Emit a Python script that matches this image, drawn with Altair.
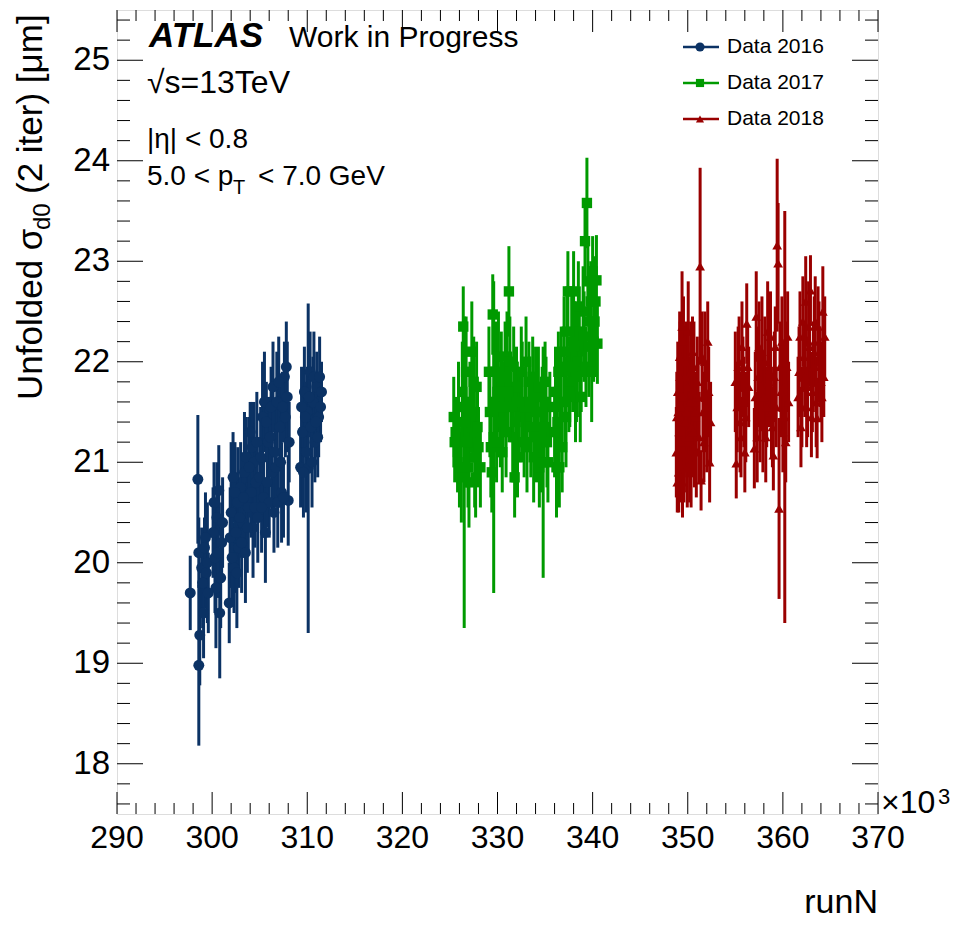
import altair as alt
import pandas as pd

# ---------------- data (run numbers in units of 10^3) ----------------
run_2016 = [297.7, 298.5, 298.6, 298.7, 298.6, 298.9, 299.0, 299.1, 299.2, 299.4, 299.5,
            300.1, 300.3, 300.4, 300.5, 300.7, 300.8, 301.0, 301.8, 301.9, 302.0, 302.2,
            302.3, 302.5, 302.7, 302.8, 303.0, 303.2, 303.4, 303.5, 303.6, 303.8, 304.0,
            304.1, 304.3, 304.4, 304.6, 305.0, 305.3, 305.4, 305.5, 305.6, 305.9, 306.0,
            306.2, 306.3, 306.6, 306.8, 306.9, 307.1, 307.3, 307.6, 307.7, 307.9, 308.0,
            308.1, 309.3, 309.5, 309.7, 309.9, 310.0, 310.1, 310.3, 310.4, 310.6, 310.8,
            311.0, 311.2, 311.4, 311.5,
            302.1, 302.4, 302.6, 302.9, 303.1, 303.3, 303.7, 303.9, 304.2, 304.5,
            304.7, 304.8, 305.1, 305.2, 305.7, 305.8, 306.1, 306.4, 306.5, 306.7,
            307.0, 307.2, 307.4, 307.5, 307.8, 309.4, 309.6, 309.8, 310.2, 310.5,
            310.7, 310.9, 311.1, 311.3, 299.3, 299.6, 300.2, 300.6, 300.9, 301.1]
val_2016 = [19.70, 20.83, 20.10, 19.28, 18.98, 19.95, 19.80, 19.50, 20.15, 19.90, 20.00,
            20.30, 20.05, 19.75, 20.45, 20.72, 19.50, 20.20, 19.60, 20.25, 20.50, 20.85,
            19.95, 20.30, 20.60, 20.15, 20.75, 20.40, 20.90, 20.10, 21.05, 20.55, 21.30,
            20.70, 20.35, 21.00, 20.80, 20.85, 21.45, 20.65, 21.60, 20.30, 21.20, 20.60,
            21.55, 20.90, 21.10, 21.60, 20.60, 21.35, 20.70, 21.85, 21.45, 21.65, 20.62,
            21.20, 20.95, 21.30, 21.70, 21.10, 21.50, 20.94, 21.90, 21.35, 21.60, 21.20,
            21.75, 21.45, 21.55, 21.70,
            20.05, 20.70, 19.90, 20.45, 20.20, 20.65, 20.35, 20.95, 21.15, 20.55,
            21.20, 20.45, 21.05, 20.55, 21.40, 20.80, 21.25, 21.75, 20.50, 20.95,
            21.80, 21.00, 21.55, 20.65, 21.95, 21.55, 20.90, 21.45, 21.65, 21.00,
            21.85, 21.40, 21.25, 21.85, 20.25, 19.70, 20.60, 20.10, 19.85, 20.40]
err_2016 = [0.37, 0.64, 0.35, 0.50, 0.80, 0.40, 0.45, 0.45, 0.30, 0.35, 0.60,
            0.45, 0.55, 0.60, 0.55, 0.45, 0.65, 0.40, 0.40, 0.50, 0.70, 0.45,
            0.45, 0.60, 0.55, 0.40, 0.45, 0.35, 0.60, 0.50, 0.40, 0.45, 0.30,
            0.45, 0.50, 0.60, 0.35, 0.40, 0.55, 0.40, 0.50, 0.50, 0.45, 0.35,
            0.40, 0.40, 0.45, 0.50, 0.45, 0.40, 0.50, 0.35, 0.40, 0.55, 0.45,
            0.40, 0.40, 0.40, 0.45, 0.60, 0.45, 1.64, 0.40, 0.35, 0.45, 0.40,
            0.35, 0.40, 0.35, 0.30,
            0.45, 0.50, 0.55, 0.40, 0.50, 0.45, 0.45, 0.50, 0.45, 0.40,
            0.50, 0.45, 0.50, 0.45, 0.40, 0.45, 0.40, 0.45, 0.40, 0.40,
            0.45, 0.45, 0.35, 0.40, 0.45, 0.40, 0.45, 0.35, 0.40, 0.45,
            0.45, 0.35, 0.40, 0.40, 0.45, 0.40, 0.40, 0.45, 0.50, 0.45]

run_2017 = [325.4, 325.6, 325.8, 326.2, 326.4, 326.5, 326.7, 326.8, 327.0, 327.1, 327.3,
            327.4, 327.6, 327.8, 328.0, 328.2, 329.2, 329.3, 329.5, 329.6, 329.8, 330.0,
            330.3, 330.5, 330.8, 331.0, 331.2, 331.4, 331.6, 331.8, 332.0, 332.3, 332.6,
            332.8, 333.0, 333.3, 333.5, 333.8, 334.0, 334.2, 334.4, 334.6, 334.8, 335.0,
            335.2, 335.5, 336.0, 336.2, 336.4, 336.6, 336.8, 337.0, 337.2, 337.4, 337.6,
            337.8, 338.0, 338.2, 338.4, 338.6, 338.8, 339.0, 339.2, 339.4, 339.6, 339.8,
            340.0, 340.2, 340.4, 340.5,
            325.5, 325.9, 326.0, 326.3, 326.6, 326.9, 327.2, 327.5, 327.7, 327.9,
            329.1, 329.4, 329.7, 329.9, 330.1, 330.4, 330.6, 330.9, 331.1, 331.3,
            331.7, 331.9, 332.1, 332.5, 332.9, 333.1, 333.4, 333.7, 334.1, 334.3,
            334.7, 334.9, 335.1, 335.3, 336.1, 336.3, 336.5, 336.7, 337.1, 337.3,
            337.5, 337.9, 338.1, 338.3, 338.5, 338.7, 339.1, 339.3, 339.5, 339.7,
            339.9, 340.1, 340.3]
val_2017 = [21.45, 21.30, 21.00, 20.85, 22.35, 20.90, 21.90, 21.20, 20.80, 21.60, 22.10,
            21.35, 21.05, 21.75, 21.15, 20.95, 21.50, 21.15, 22.47, 21.25, 21.90, 21.70,
            21.40, 21.10, 21.85, 22.05, 22.70, 21.55, 21.25, 20.85, 21.75, 21.45, 21.60,
            21.20, 22.00, 21.80, 21.35, 21.05, 21.65, 21.50, 20.95, 21.25, 21.00, 21.80,
            21.20, 21.55, 21.30, 20.95, 21.90, 21.60, 21.15, 22.10, 21.45, 22.70, 21.80,
            22.20, 22.70, 21.65, 22.00, 22.30, 21.90, 22.50, 23.20, 23.58, 22.15, 22.60,
            22.90, 22.40, 22.81, 22.18,
            21.20, 21.55, 20.95, 21.70, 21.40, 20.95, 21.50, 21.80, 20.85, 21.35,
            21.90, 20.90, 21.60, 21.20, 22.05, 21.85, 21.55, 21.30, 21.70, 22.00,
            21.95, 21.40, 21.05, 21.90, 21.55, 21.15, 21.60, 21.85, 21.25, 21.75,
            21.50, 21.35, 21.60, 21.00, 21.70, 21.40, 20.95, 21.95, 21.60, 22.30,
            21.70, 21.95, 22.20, 21.85, 22.55, 21.65, 22.25, 21.95, 22.80, 22.40,
            21.90, 22.20, 22.60]
err_2017 = [0.40, 0.35, 0.30, 0.45, 0.40, 1.55, 0.55, 0.45, 0.45, 0.40, 0.50,
            0.35, 0.50, 0.45, 0.40, 0.40, 0.45, 0.50, 0.40, 1.55, 0.50, 0.40,
            0.45, 0.40, 0.55, 0.45, 0.45, 0.35, 0.45, 0.40, 0.40, 0.45, 0.60,
            0.35, 0.45, 0.40, 0.50, 0.45, 0.50, 0.40, 0.40, 0.55, 1.15, 0.40,
            0.45, 0.35, 0.45, 0.50, 0.40, 0.45, 0.45, 0.55, 0.50, 0.40, 0.45,
            0.50, 0.40, 0.45, 0.55, 0.45, 0.40, 0.45, 0.40, 0.45, 0.50, 0.40,
            0.35, 0.50, 0.45, 0.40,
            0.40, 0.45, 0.40, 0.50, 0.45, 0.40, 0.40, 0.45, 0.40, 0.45,
            0.45, 0.40, 0.45, 0.40, 0.45, 0.45, 0.45, 0.45, 0.40, 0.45,
            0.40, 0.40, 0.40, 0.45, 0.40, 0.45, 0.45, 0.40, 0.45, 0.40,
            0.45, 0.40, 0.45, 0.40, 0.45, 0.45, 0.40, 0.40, 0.45, 0.45,
            0.40, 0.45, 0.40, 0.45, 0.45, 0.45, 0.45, 0.40, 0.40, 0.45,
            0.50, 0.40, 0.45]

run_2018 = [348.8, 348.9, 349.0, 349.1, 349.2, 349.3, 349.4, 349.5, 349.6, 349.7, 349.8,
            349.9, 350.0, 350.1, 350.2, 350.3, 350.4, 350.5, 350.6, 350.7, 350.8, 351.0,
            351.2, 351.3, 351.4, 351.6, 351.8, 352.0, 352.2, 352.4, 355.0, 355.1, 355.3,
            355.5, 355.7, 355.9, 356.0, 356.2, 356.4, 357.0, 357.2, 357.4, 357.6, 357.8,
            358.0, 358.2, 358.4, 358.6, 358.8, 359.0, 359.2, 359.4, 359.5, 359.6, 359.8,
            360.0, 360.2, 360.4, 360.6, 361.7, 361.8, 362.0, 362.2, 362.4, 362.6, 362.8,
            363.0, 363.2, 363.4, 363.6, 363.8, 364.0, 364.2, 364.4,
            348.85, 348.95, 349.05, 349.15, 349.25, 349.35, 349.45, 349.55, 349.65, 349.75,
            349.85, 349.95, 350.05, 350.15, 350.25, 350.35, 350.45, 350.55, 350.65, 350.75,
            350.9, 351.1, 351.5, 351.7, 351.9, 352.1, 352.3, 355.2, 355.4, 355.6,
            355.8, 356.1, 356.3, 357.1, 357.3, 357.5, 357.7, 357.9, 358.1, 358.3,
            358.5, 358.7, 358.9, 359.1, 359.3, 359.7, 359.9, 360.1, 360.3, 360.5,
            361.6, 361.9, 362.1, 362.3, 362.5, 362.7, 362.9, 363.1, 363.3, 363.5,
            363.7, 363.9, 364.1, 364.3]
val_2018 = [21.10, 20.80, 21.50, 21.30, 21.85, 21.00, 22.35, 21.65, 20.95, 21.40, 22.00,
            21.20, 21.75, 21.55, 21.05, 21.90, 21.35, 22.10, 21.60, 21.15, 21.45, 21.80,
            21.25, 22.95, 20.82, 21.50, 22.00, 21.30, 21.70, 21.40, 21.80, 20.99, 21.95,
            21.40, 22.15, 21.60, 21.10, 22.38, 21.75, 21.14, 22.45, 21.85, 21.40, 22.10,
            21.65, 21.25, 22.30, 21.90, 21.50, 21.07, 22.15, 23.16, 22.98, 20.54, 21.70,
            21.30, 21.45, 21.95, 21.60, 21.90, 22.25, 21.55, 22.05, 22.60, 21.75, 22.15,
            21.45, 21.95, 22.40, 21.44, 22.10, 21.80, 22.50, 22.25,
            21.45, 21.70, 20.90, 22.05, 21.20, 21.55, 20.80, 22.20, 21.10, 21.85,
            21.50, 20.95, 22.30, 21.25, 21.60, 21.00, 21.70, 21.30, 21.95, 21.50,
            21.10, 21.65, 22.05, 21.20, 21.55, 22.20, 21.00, 21.55, 22.00, 21.25,
            21.85, 21.45, 21.95, 21.65, 21.25, 22.15, 21.75, 21.35, 22.00, 21.55,
            21.80, 22.25, 21.35, 21.85, 21.55, 21.95, 22.20, 21.75, 21.20, 22.25,
            21.65, 21.35, 22.40, 21.85, 21.55, 22.35, 22.71, 21.70, 22.20, 21.60,
            22.35, 21.95, 21.65, 21.85]
err_2018 = [0.45, 0.30, 0.55, 0.50, 0.55, 0.40, 0.55, 0.45, 0.35, 0.50, 0.40,
            0.35, 0.45, 0.40, 0.45, 0.50, 0.45, 0.35, 0.40, 0.40, 0.40, 0.45,
            0.45, 0.98, 0.30, 0.40, 0.50, 0.40, 0.45, 0.40, 0.50, 0.35, 0.40,
            0.50, 0.45, 0.45, 0.40, 0.40, 0.40, 0.40, 0.45, 0.50, 0.40, 0.55,
            0.45, 0.45, 0.50, 0.45, 0.45, 0.35, 0.40, 0.86, 0.60, 0.90, 0.45,
            0.40, 2.05, 0.45, 0.40, 0.45, 0.45, 0.40, 0.35, 0.45, 0.50, 0.40,
            0.40, 0.45, 0.45, 0.40, 0.50, 0.40, 0.45, 0.40,
            0.45, 0.50, 0.40, 0.45, 0.45, 0.50, 0.35, 0.45, 0.40, 0.50,
            0.45, 0.40, 0.50, 0.40, 0.45, 0.45, 0.40, 0.45, 0.45, 0.40,
            0.45, 0.40, 0.45, 0.40, 0.45, 0.40, 0.40, 0.45, 0.45, 0.40,
            0.40, 0.45, 0.40, 0.45, 0.45, 0.45, 0.40, 0.45, 0.45, 0.40,
            0.45, 0.45, 0.40, 0.45, 0.40, 0.45, 0.45, 0.45, 0.40, 0.45,
            0.40, 0.40, 0.45, 0.40, 0.40, 0.45, 0.35, 0.40, 0.45, 0.45,
            0.40, 0.40, 0.45, 0.40]

series_names = ["Data 2016", "Data 2017", "Data 2018"]
series_colors = ["#0b3264", "#009a00", "#990000"]
series_shapes = ["circle", "square", "triangle-up"]
series_sizes = [120, 95, 95]

x_major = [290, 300, 310, 320, 330, 340, 350, 360, 370]
x_minor = [v for v in range(290, 371, 2) if v % 10 != 0]
y_major = [18, 19, 20, 21, 22, 23, 24, 25]
y_minor = [round(17.6 + 0.2 * i, 1) for i in range(40) if round((17.6 + 0.2 * i) * 10) % 10 != 0]

# ---------------- layout ----------------
W, H = 761, 804
FONT = "Liberation Sans"

frames = []
for runs, vals, errs, name in zip([run_2016, run_2017, run_2018],
                                  [val_2016, val_2017, val_2018],
                                  [err_2016, err_2017, err_2018], series_names):
    f = pd.DataFrame({"run": runs, "val": vals, "err": errs})
    f["series"] = name
    frames.append(f)
df = pd.concat(frames, ignore_index=True)
df["lo"] = df["val"] - df["err"]
df["hi"] = df["val"] + df["err"]

xs = alt.Scale(domain=[290, 370], nice=False, zero=False)
ys = alt.Scale(domain=[17.5, 25.5], nice=False, zero=False)
cs = alt.Scale(domain=series_names, range=series_colors)

bars = alt.Chart(df).mark_rule(strokeWidth=3).encode(
    x=alt.X("run:Q", scale=xs, axis=None),
    y=alt.Y("lo:Q", scale=ys, axis=None),
    y2="hi:Q",
    color=alt.Color("series:N", scale=cs, legend=None),
)
points = alt.Chart(df).mark_point(filled=True, opacity=1).encode(
    x=alt.X("run:Q", scale=xs, axis=None),
    y=alt.Y("val:Q", scale=ys, axis=None),
    color=alt.Color("series:N", scale=cs, legend=None),
    shape=alt.Shape("series:N", scale=alt.Scale(domain=series_names, range=series_shapes), legend=None),
    size=alt.Size("series:N", scale=alt.Scale(domain=series_names, range=series_sizes), legend=None),
)

def xticks(vals, length):
    d = pd.DataFrame({"v": vals})
    bot = alt.Chart(d).mark_rule(color="black", strokeWidth=1).encode(
        x=alt.X("v:Q", scale=xs, axis=None), y=alt.value(H), y2=alt.value(H - length))
    top = alt.Chart(d).mark_rule(color="black", strokeWidth=1).encode(
        x=alt.X("v:Q", scale=xs, axis=None), y=alt.value(0), y2=alt.value(length))
    return [bot, top]

def yticks(vals, length):
    d = pd.DataFrame({"v": vals})
    left = alt.Chart(d).mark_rule(color="black", strokeWidth=1).encode(
        y=alt.Y("v:Q", scale=ys, axis=None), x=alt.value(0), x2=alt.value(length))
    right = alt.Chart(d).mark_rule(color="black", strokeWidth=1).encode(
        y=alt.Y("v:Q", scale=ys, axis=None), x=alt.value(W), x2=alt.value(W - length))
    return [left, right]

tick_layers = xticks(x_major, 22) + xticks(x_minor, 11) + yticks(y_major, 26) + yticks(y_minor, 13)

# tick labels, positioned through the scales
xlab = alt.Chart(pd.DataFrame({"v": x_major, "t": [str(v) for v in x_major]})).mark_text(
    align="center", baseline="top", font=FONT, fontSize=32, color="black").encode(
    x=alt.X("v:Q", scale=xs, axis=None), y=alt.value(H + 9), text="t:N")
ylab = alt.Chart(pd.DataFrame({"v": y_major, "t": [str(v) for v in y_major]})).mark_text(
    align="right", baseline="middle", font=FONT, fontSize=33, color="black").encode(
    y=alt.Y("v:Q", scale=ys, axis=None), x=alt.value(-7), text="t:N")

def txt(text, x, y, size, align="left", baseline="alphabetic", angle=0, **kw):
    return alt.Chart(pd.DataFrame({"t": [text]})).mark_text(
        align=align, baseline=baseline, font=FONT, fontSize=size, color="black",
        angle=angle, **kw).encode(x=alt.value(x), y=alt.value(y), text="t:N")

texts = [
    txt("ATLAS", 32, 37, 35, fontWeight="bold", fontStyle="italic"),
    txt("Work in Progress", 172, 37, 30),
    txt("\u221as=13TeV", 30, 83, 32),
    txt("|\u03b7| < 0.8", 30, 138, 28),
    txt("5.0 < p", 30, 175, 28),
    txt("T", 116, 184, 20),
    txt("< 7.0 GeV", 141, 175, 28),
    # axis titles
    txt("Unfolded \u03c3", -75, 390, 35, angle=270),
    txt("d0", -67, 220, 24, angle=270),
    txt("(2 iter) [\u03bcm]", -75, 184, 35, angle=270),
    txt("runN", W, 903, 34, align="right"),
    txt("\u00d710", 764, 803, 32),
    txt("3", 821, 794, 22),
]

# legend
legend_layers = []
for i, (name, col, shp, sz) in enumerate(zip(series_names, series_colors, series_shapes, series_sizes)):
    yy = 37 + 36 * i
    one = pd.DataFrame({"t": [name]})
    legend_layers.append(alt.Chart(one).mark_rule(color=col, strokeWidth=2.5).encode(
        x=alt.value(566), x2=alt.value(602), y=alt.value(yy)))
    legend_layers.append(alt.Chart(one).mark_point(filled=True, opacity=1, color=col, shape=shp,
                                                   size=sz * 0.7).encode(
        x=alt.value(583), y=alt.value(yy)))
    legend_layers.append(txt(name, 610, yy, 21, baseline="middle"))

chart = alt.layer(bars, points, *tick_layers, xlab, ylab, *texts, *legend_layers).properties(
    width=W, height=H,
    autosize=alt.AutoSizeParams(type="none"),
    padding={"left": 117, "top": 10, "right": 76, "bottom": 112},
).configure_view(stroke="black", strokeWidth=2).configure(background="white")

chart.save("out.html", embed_options={"renderer": "svg", "actions": False})
